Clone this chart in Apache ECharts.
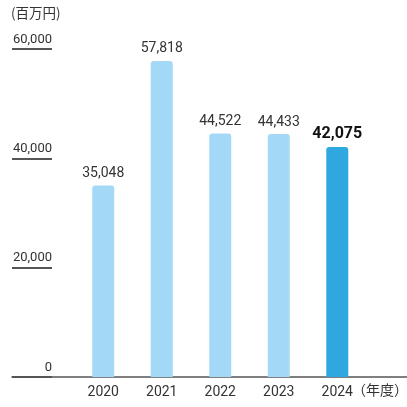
<!DOCTYPE html>
<html>
<head>
<meta charset="utf-8">
<script src="https://cdn.jsdelivr.net/npm/echarts@6/dist/echarts.min.js"></script>
<style>
  html, body { margin: 0; padding: 0; background: #fff; }
  #chart { width: 407px; height: 407px; }
</style>
</head>
<body>
<div id="chart"></div>
<script>
// Fiscal years and amounts (millions of yen)
const years = ['2020', '2021', '2022', '2023', '2024'];
const amounts = [35048, 57818, 44522, 44433, 42075];
const yTicks = [0, 20000, 40000, 60000];

const FONT = 'Roboto, "Noto Sans CJK JP", sans-serif';
const lightBlue = '#a3d9f6';
const strongBlue = '#2fa8e0';
const latest = years.length - 1;

const barData = amounts.map((v, i) => ({
  value: v,
  itemStyle: { color: i === latest ? strongBlue : lightBlue },
  label: i === latest
    ? { fontSize: 16, fontWeight: 'bold', color: '#111' }
    : { fontSize: 14, color: '#333' }
}));

const fmt = v => v.toLocaleString('en-US');

const chart = echarts.init(document.getElementById('chart'), null, { renderer: 'canvas' });
chart.setOption({
  animation: false,
  textStyle: { fontFamily: FONT },
  grid: [
    // tick labels with short underlines
    { left: 12, width: 40, top: 49, bottom: 30 },
    // bars
    { left: 74, right: 40.5, top: 49, bottom: 30 },
    // full-width baseline
    { left: 12, right: 0, top: 49, bottom: 30 }
  ],
  xAxis: [
    { gridIndex: 0, type: 'value', show: false },
    {
      gridIndex: 1, type: 'category', data: years,
      axisLine: { show: false }, axisTick: { show: false },
      axisLabel: { color: '#333', fontSize: 14, margin: 9, fontFamily: FONT }
    },
    {
      gridIndex: 2, type: 'value', min: 0, max: 1,
      axisLine: { show: true, onZero: false, lineStyle: { color: '#555', width: 1.5 } },
      axisTick: { show: false }, axisLabel: { show: false }, splitLine: { show: false }
    }
  ],
  yAxis: [
    {
      gridIndex: 0, type: 'value', position: 'right',
      min: yTicks[0], max: yTicks[yTicks.length - 1], interval: yTicks[1] - yTicks[0],
      axisLine: { show: false }, axisTick: { show: false },
      splitLine: { show: true, lineStyle: { color: '#555', width: 1.8 } },
      axisLabel: {
        inside: true, margin: 0, fontSize: 13, color: '#333',
        verticalAlign: 'bottom', padding: [0, 0, 3, 0],
        formatter: v => fmt(v), fontFamily: FONT
      }
    },
    {
      gridIndex: 1, type: 'value',
      min: yTicks[0], max: yTicks[yTicks.length - 1],
      show: false, splitLine: { show: false }
    },
    { gridIndex: 2, type: 'value', show: false, splitLine: { show: false } }
  ],
  graphic: [
    {
      type: 'text', left: 11, top: 6,
      style: { text: '(百万円)', fontSize: 13.5, fill: '#333', fontFamily: '"Noto Sans CJK JP", sans-serif' }
    },
    {
      type: 'text', left: 352, top: 383,
      style: { text: '（年度）', fontSize: 14, fill: '#333', fontFamily: '"Noto Sans CJK JP", sans-serif' }
    }
  ],
  series: [
    {
      type: 'bar', xAxisIndex: 1, yAxisIndex: 1,
      data: barData, barWidth: 22,
      itemStyle: { borderRadius: [3, 3, 0, 0] },
      label: {
        show: true, position: 'top', distance: 5,
        formatter: p => fmt(p.value), fontFamily: FONT
      }
    }
  ]
});
</script>
</body>
</html>
